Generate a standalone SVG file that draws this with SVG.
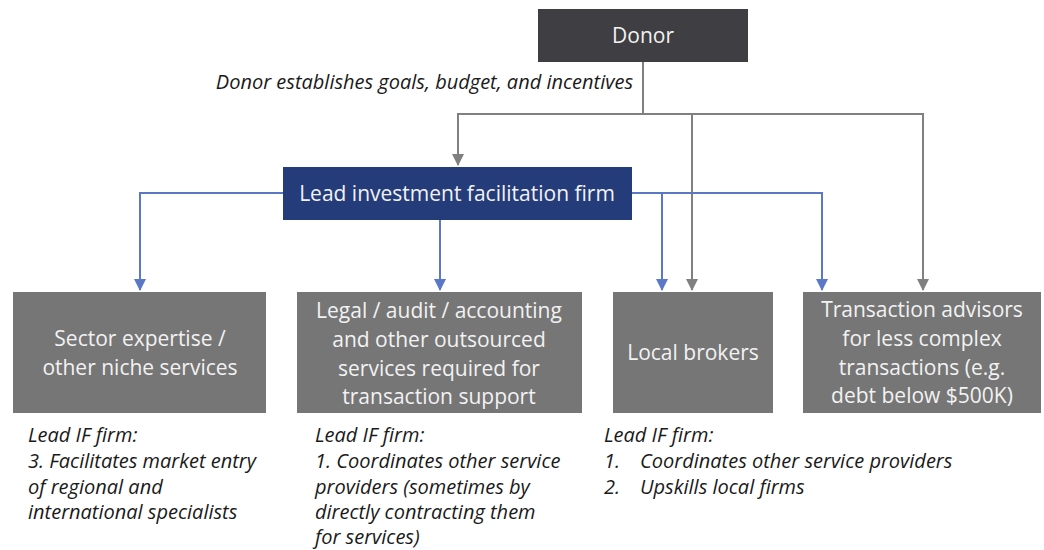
<svg xmlns="http://www.w3.org/2000/svg" width="1044" height="550" viewBox="0 0 1044 550">
<style>
.box{fill:#767676}
.bt{font-family:"Open Sans","Liberation Sans",sans-serif;font-size:21px;fill:#f2f2f2;text-anchor:middle}
.note{font-family:"Open Sans","Liberation Sans",sans-serif;font-size:20px;font-style:italic;fill:#1a1a1a}
.g{fill:none;stroke:#808080;stroke-width:2}
.b{fill:none;stroke:#5a78c5;stroke-width:2}
</style>
<defs>
<marker id="ab" markerUnits="userSpaceOnUse" markerWidth="12" markerHeight="12" viewBox="0 0 12 12" refX="6" refY="11" orient="0">
<path d="M0,0 L12,0 L6,12 Z" fill="#5a78c5"/>
</marker>
<marker id="ag2" markerUnits="userSpaceOnUse" markerWidth="12" markerHeight="12" viewBox="0 0 12 12" refX="6" refY="11" orient="0">
<path d="M0,0 L12,0 L6,12 Z" fill="#808080"/>
</marker>
</defs>
<g id="connectors">
<path class="g" d="M643,62 V114"/>
<path class="g" d="M643,114 H458 V165" marker-end="url(#ag2)"/>
<path class="g" d="M643,114 H923 V290" marker-end="url(#ag2)"/>
<path class="g" d="M692,114 V290" marker-end="url(#ag2)"/>
<path class="b" d="M283,193 H140 V290" marker-end="url(#ab)"/>
<path class="b" d="M440,220 V290" marker-end="url(#ab)"/>
<path class="b" d="M632,193 H822 V290" marker-end="url(#ab)"/>
<path class="b" d="M662,193 V290" marker-end="url(#ab)"/>
<text class="note" x="633" y="89" text-anchor="end">Donor establishes goals, budget, and incentives</text>
</g>
<g id="donor">
<rect x="538" y="9" width="210" height="53" fill="#3f3e42"/>
<text class="bt" x="643" y="43">Donor</text>
</g>
<g id="lead">
<rect x="283" y="167" width="349" height="53" fill="#243c7a"/>
<text class="bt" x="457" y="201">Lead investment facilitation firm</text>
</g>
<g id="sector">
<rect class="box" x="13" y="292" width="253" height="121"/>
<text class="bt" x="140" y="346">Sector expertise /</text>
<text class="bt" x="140" y="375">other niche services</text>
</g>
<g id="legal">
<rect class="box" x="297" y="292" width="285" height="121"/>
<text class="bt" x="439" y="318">Legal / audit / accounting</text>
<text class="bt" x="439" y="347">and other outsourced</text>
<text class="bt" x="439" y="376">services required for</text>
<text class="bt" x="439" y="404">transaction support</text>
</g>
<g id="brokers">
<rect class="box" x="613" y="292" width="160" height="121"/>
<text class="bt" x="693" y="360">Local brokers</text>
</g>
<g id="advisors">
<rect class="box" x="803" y="292" width="238" height="121"/>
<text class="bt" x="922" y="317">Transaction advisors</text>
<text class="bt" x="922" y="346">for less complex</text>
<text class="bt" x="922" y="375">transactions (e.g.</text>
<text class="bt" x="922" y="403">debt below $500K)</text>
</g>
<g id="note1">
<text class="note" x="28" y="442">Lead IF firm:</text>
<text class="note" x="28" y="468">3. Facilitates market entry</text>
<text class="note" x="28" y="494">of regional and</text>
<text class="note" x="28" y="519">international specialists</text>
</g>
<g id="note2">
<text class="note" x="315" y="442">Lead IF firm:</text>
<text class="note" x="315" y="468">1. Coordinates other service</text>
<text class="note" x="315" y="494">providers (sometimes by</text>
<text class="note" x="315" y="519">directly contracting them</text>
<text class="note" x="315" y="544">for services)</text>
</g>
<g id="note3">
<text class="note" x="604" y="442">Lead IF firm:</text>
<text class="note" x="604" y="468">1.</text>
<text class="note" x="640" y="468">Coordinates other service providers</text>
<text class="note" x="604" y="494">2.</text>
<text class="note" x="640" y="494">Upskills local firms</text>
</g>
</svg>
